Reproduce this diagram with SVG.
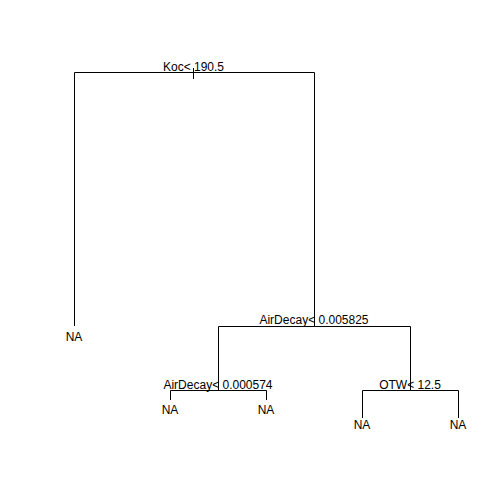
<svg xmlns="http://www.w3.org/2000/svg" width="504" height="504" viewBox="0 0 504 504">
<style>
.e{fill:none;stroke:#000;stroke-width:1}
text{font-family:"Liberation Sans",Arial,sans-serif;font-size:12px;fill:#000;text-anchor:middle}
</style>
<rect width="504" height="504" fill="#fff"/>
<g id="connectors">
<path class="e" d="M74.5,326V72.5H314.5V326"/>
<path class="e" d="M193.5,68V79"/>
<path class="e" d="M314.5,305V326"/>
<path class="e" d="M218.5,391V326.5H410.5V391"/>
<path class="e" d="M170.5,400V390.5H266.5V400"/>
<path class="e" d="M218.5,380V391"/>
<path class="e" d="M362.5,418V390.5H458.5V418"/>
<path class="e" d="M410.5,380V391"/>
</g>
<g id="n1"><text x="193.5" y="70.5">Koc&lt; 190.5</text></g>
<g id="n2"><text x="74" y="341">NA</text></g>
<g id="n3"><text x="314" y="324">AirDecay&lt; 0.005825</text></g>
<g id="n4"><text x="218" y="388.5">AirDecay&lt; 0.000574</text></g>
<g id="n5"><text x="170" y="413.5">NA</text></g>
<g id="n6"><text x="266" y="413.5">NA</text></g>
<g id="n7"><text x="410" y="388.5">OTW&lt; 12.5</text></g>
<g id="n8"><text x="362" y="428.5">NA</text></g>
<g id="n9"><text x="458" y="428.5">NA</text></g>
</svg>
